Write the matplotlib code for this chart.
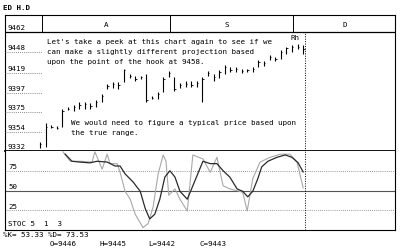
#price chart with stochastic oscillator - scanned screen printout
import matplotlib.pyplot as plt
import numpy as np

#price bars
highs = [9342, 9363, 9360, 9359, 9378, 9380, 9382, 9385, 9385, 9384, 9388, 9394, 9405, 9407, 9407, 9422,
         9416, 9414, 9414, 9416, 9392, 9396, 9413, 9419, 9413, 9406, 9408, 9408, 9408, 9413, 9419, 9416,
         9420, 9426, 9424, 9424, 9422, 9422, 9424, 9431, 9430, 9437, 9435, 9442, 9446, 9448, 9449, 9448]
lows = [9335, 9336, 9357, 9356, 9358, 9377, 9376, 9378, 9378, 9378, 9380, 9385, 9400, 9401, 9400, 9407,
        9412, 9408, 9411, 9386, 9389, 9389, 9396, 9413, 9398, 9401, 9402, 9402, 9402, 9386, 9414, 9408,
        9412, 9416, 9418, 9418, 9417, 9418, 9418, 9424, 9425, 9431, 9430, 9433, 9438, 9440, 9443, 9438]
closes = [9340, 9358, 9358, 9357, 9376, 9378, 9380, 9382, 9383, 9381, 9386, 9392, 9403, 9405, 9404, 9420,
          9414, 9411, 9413, 9388, 9390, 9394, 9411, 9417, 9400, 9404, 9405, 9404, 9406, 9411, 9417, 9413,
          9418, 9424, 9421, 9422, 9419, 9420, 9422, 9429, 9428, 9435, 9433, 9440, 9444, 9446, 9446, 9443]

#stochastic %K (light) and %D (dark), x in bar units
k_x = [4.1, 5.4, 7.1, 9.3, 9.8, 11.1, 12.0, 12.5, 13.8, 14.3, 15.2, 16.1, 17.0, 18.4, 19.3, 20.2, 21.1, 22.0, 22.5,
       23.0, 24.1, 25.0, 26.3, 27.3, 29.1, 30.4, 31.6, 32.7, 33.9, 36.2, 37.0, 38.0, 39.3, 41.1, 42.9, 44.6, 45.9, 47.0]
k_v = [99, 87, 87, 86, 99, 77, 96, 84, 84, 73, 49, 39, 20, 3, 8, 29, 71, 95, 87,
       44, 52, 39, 24, 95, 90, 73, 92, 56, 52, 48, 24, 65, 86, 92, 96, 96, 86, 53.33]
d_x = [4.5, 5.7, 7.1, 8.9, 10.2, 12.0, 13.4, 14.3, 15.2, 16.6, 17.9, 18.8, 19.6, 20.5, 21.4, 22.3, 23.2, 24.1, 25.0,
       26.3, 27.3, 29.1, 30.4, 31.6, 32.7, 33.9, 35.2, 36.2, 37.1, 38.0, 38.9, 39.6, 40.7, 42.3, 43.8, 45.0, 46.1, 47.0]
d_v = [96, 87, 86, 85, 87, 86, 81, 81, 71, 61, 49, 27, 14, 20, 39, 67, 75, 67, 49,
       39, 56, 87, 84, 84, 75, 67, 52, 49, 42, 49, 65, 80, 87, 92, 95, 92, 85, 73.53]

price_labels = ["9462", "9448", "9419", "9397", "9375", "9354", "9332"]
stoch_levels = [75, 50, 25]
months = ["A", "S", "D"]
last_o, last_h, last_l, last_c = 9446, 9445, 9442, 9443

note1 = ["Let's take a peek at this chart again to see if we",
         "can make a slightly different projection based",
         "upon the point of the hook at 9458."]
note2 = ["We would need to figure a typical price based upon",
         "the true range."]

W, H = 400, 251
def fx(px):
    return px / W
def fy(py):
    return 1 - py / H

mono = "DejaVu Sans Mono"
fs = 5.4
fig = plt.figure(figsize=(4, 2.51), dpi=100)
fig.patch.set_facecolor("white")

#price panel, header row at top
ppx = 130.0 / 119.0   # price per pixel
ytop = 9462 + 17 * ppx
ax = fig.add_axes([fx(5), fy(152), fx(395) - fx(5), fy(16) - fy(152)])
ax.set_xlim(-6.25, 63.4)
ax.set_ylim(9332, ytop)
ax.set_xticks([])
ax.set_yticks([])
for s in ax.spines.values():
    s.set_linewidth(0.8)
ax.spines["bottom"].set_linewidth(1.3)

xs = np.arange(len(highs))
ax.vlines(xs, lows, highs, color="black", lw=0.8)
ax.hlines(closes, xs, xs + 0.25, color="black", lw=0.6)

ax.axhline(9462, color="black", lw=0.9)
for xd in [0.36, 23.2, 45.2]:
    ax.plot([xd, xd], [9462, ytop], color="black", lw=0.7)
for m, xm in zip(months, [11.8, 33.4, 54.5]):
    ax.text(xm, 9470.5, m, family=mono, fontsize=fs, ha="center", va="center")
ax.plot([47.3, 47.3], [9332, 9462], color="black", lw=0.7, ls=(0, (1, 1.5)))
ax.text(45.6, 9456, "Rh", family=mono, fontsize=fs, ha="center", va="center")

#stochastic panel
ax2 = fig.add_axes([fx(5), fy(231), fx(395) - fx(5), fy(152) - fy(231)])
ax2.set_xlim(-6.25, 63.4)
ax2.set_ylim(0, 100)
ax2.set_xticks([])
ax2.set_yticks([])
for s in ax2.spines.values():
    s.set_linewidth(0.8)
ax2.spines["top"].set_visible(False)
for lv in stoch_levels:
    if lv == 50:
        ax2.axhline(lv, color="#555555", lw=0.8)
    else:
        ax2.axhline(lv, color="#777777", lw=0.6, ls=(0, (1, 1.5)))
ax2.axvline(47.3, color="black", lw=0.7, ls=(0, (1, 1.5)))
ax2.plot(k_x, k_v, color="#a8a8a8", lw=0.8)
ax2.plot(d_x, d_v, color="#2a2a2a", lw=0.9)

#labels on the left
line_py = [33, 53, 74, 94, 113, 133, 152]
for lab, py in zip(price_labels, line_py):
    fig.text(fx(8), fy(py - 5), lab, family=mono, fontsize=fs, va="center")
    if py not in (33, 152):
        fig.lines.append(plt.Line2D([fx(5), fx(42)], [fy(py), fy(py)], transform=fig.transFigure,
                                    color="#666666", lw=0.6, ls=(0, (1, 1.5))))
for lv, py in zip(stoch_levels, [167, 187, 207]):
    fig.text(fx(8), fy(py), str(lv), family=mono, fontsize=fs, va="center")
fig.text(fx(8), fy(224), "STOC 5  1  3", family=mono, fontsize=fs, va="center")

#notes
for i, t in enumerate(note1):
    fig.text(fx(47), fy(42 + i * 10), t, family=mono, fontsize=fs, va="center")
for i, t in enumerate(note2):
    fig.text(fx(71), fy(123 + i * 10), t, family=mono, fontsize=fs, va="center")

fig.text(fx(3), fy(8), "ED H.D", family=mono, fontsize=fs, weight="bold", va="center")
fig.text(fx(3), fy(235), "%%K= %.2f %%D= %.2f" % (k_v[-1], d_v[-1]), family=mono, fontsize=fs, va="center")
for t, px in zip(["O=%d" % last_o, "H=%d" % last_h, "L=%d" % last_l, "C=%d" % last_c], [50, 100, 148, 200]):
    fig.text(fx(px), fy(244), t, family=mono, fontsize=fs, va="center")

fig.savefig("out.png", dpi=100)
